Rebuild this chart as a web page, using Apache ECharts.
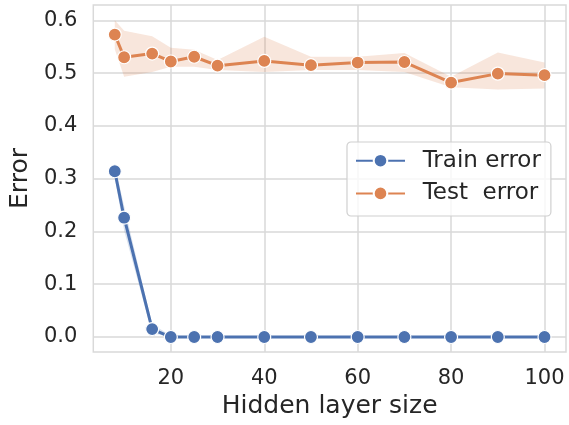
<!DOCTYPE html>
<html>
<head>
<meta charset="utf-8">
<script src="https://cdn.jsdelivr.net/npm/echarts@6/dist/echarts.min.js"></script>
<style>html,body{margin:0;padding:0;background:#fff;}#c{width:569px;height:425px;}</style>
</head>
<body>
<div id="c"></div>
<script>
const hiddenSizes = [8, 10, 16, 20, 25, 30, 40, 50, 60, 70, 80, 90, 100];
const trainError = [0.314, 0.226, 0.015, 0, 0, 0, 0, 0, 0, 0, 0, 0, 0];
const trainLower = [0.302, 0.202, 0.007, 0, 0, 0, 0, 0, 0, 0, 0, 0, 0];
const trainUpper = [0.326, 0.248, 0.024, 0.003, 0.001, 0.001, 0.001, 0.001, 0.001, 0.001, 0.001, 0.001, 0.001];
const testError = [0.573, 0.530, 0.537, 0.522, 0.531, 0.514, 0.523, 0.515, 0.520, 0.521, 0.482, 0.499, 0.496];
const testLower = [0.545, 0.493, 0.502, 0.512, 0.512, 0.506, 0.502, 0.506, 0.506, 0.502, 0.473, 0.469, 0.471];
const testUpper = [0.600, 0.580, 0.570, 0.548, 0.544, 0.525, 0.569, 0.531, 0.531, 0.538, 0.493, 0.539, 0.520];
const xTicks = [20, 40, 60, 80, 100];
const yTicks = [0.0, 0.1, 0.2, 0.3, 0.4, 0.5, 0.6];

const blue = '#4c72b0', orange = '#dd8452';
const txt = '#262626', gridC = '#d9d9d9';
const font = 'DejaVu Sans';

function band(lower, upper, color) {
  return {
    type: 'custom',
    z: 1,
    silent: true,
    data: hiddenSizes.map((x, i) => [x, lower[i], upper[i]]),
    renderItem: function (params, api) {
      if (params.dataIndex !== 0) return null;
      const pts = [];
      for (let i = 0; i < hiddenSizes.length; i++) pts.push(api.coord([hiddenSizes[i], upper[i]]));
      for (let i = hiddenSizes.length - 1; i >= 0; i--) pts.push(api.coord([hiddenSizes[i], lower[i]]));
      return { type: 'polygon', shape: { points: pts }, style: { fill: color, opacity: 0.2 } };
    }
  };
}

function line(name, data, color) {
  return {
    name: name,
    type: 'line',
    z: 3,
    data: hiddenSizes.map((x, i) => [x, data[i]]),
    symbol: 'circle',
    symbolSize: 13,
    lineStyle: { color: color, width: 3 },
    itemStyle: { color: color, borderColor: '#fff', borderWidth: 1.2 },
    emphasis: { disabled: true }
  };
}

const chart = echarts.init(document.getElementById('c'), null, { renderer: 'canvas' });
chart.setOption({
  animation: false,
  backgroundColor: '#fff',
  grid: { left: 92, right: 3, top: 5, bottom: 73, show: true, borderColor: gridC, borderWidth: 1.5, backgroundColor: 'transparent' },
  xAxis: {
    type: 'value', min: 3.4, max: 104.6,
    name: 'Hidden layer size', nameLocation: 'middle', nameGap: 40,
    nameTextStyle: { fontFamily: font, fontSize: 25, color: txt },
    axisLine: { show: false },
    axisTick: { show: false, customValues: xTicks },
    axisLabel: { customValues: xTicks, fontFamily: font, fontSize: 21, color: txt, margin: 16 },
    splitLine: { show: true, lineStyle: { color: gridC, width: 1.5 } }
  },
  yAxis: {
    type: 'value', min: -0.0284, max: 0.629,
    name: 'Error', nameLocation: 'middle', nameGap: 55, nameRotate: 90,
    nameTextStyle: { fontFamily: font, fontSize: 25, color: txt },
    axisLine: { show: false },
    axisTick: { show: false, customValues: yTicks },
    axisLabel: { customValues: yTicks, fontFamily: font, fontSize: 21, color: txt, margin: 16, formatter: v => v.toFixed(1) },
    splitLine: { show: true, lineStyle: { color: gridC, width: 1.5 } }
  },
  legend: {
    data: ['Train error', 'Test  error'],
    orient: 'vertical',
    left: 347, top: 142,
    padding: [6.7, 10, 10.6, 8],
    itemWidth: 49, itemHeight: 17, itemGap: 8.7,
    backgroundColor: 'rgba(255,255,255,0.8)',
    borderColor: '#d0d0d0', borderWidth: 1.2, borderRadius: 4,
    textStyle: { fontFamily: font, fontSize: 23, color: txt, lineHeight: 24, padding: [0, 0, 0, 12.7] }
  },
  series: [
    band(trainLower, trainUpper, blue),
    band(testLower, testUpper, orange),
    line('Train error', trainError, blue),
    line('Test  error', testError, orange)
  ]
});
</script>
</body>
</html>
